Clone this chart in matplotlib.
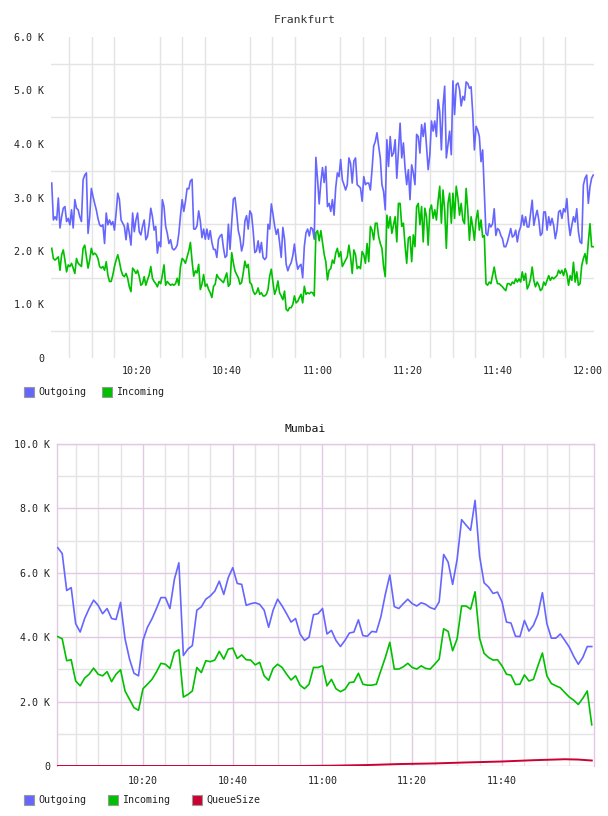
import matplotlib
matplotlib.use('Agg')
import matplotlib.pyplot as plt
import numpy as np
from matplotlib.patches import Rectangle

plt.rcParams['font.family'] = ['DejaVu Sans Mono', 'DejaVu Sans']

# ---------------- data (values in thousands) ----------------
# Frankfurt: dense samples, evenly spaced in time (minutes after 10:00)
fra_t_start = 1.09
fra_t_end = 121.17
fra_outgoing = [
    3.27, 2.58, 2.64, 2.58, 2.99, 2.43, 2.64, 2.80, 2.83, 2.55,
    2.61, 2.49, 2.77, 2.43, 2.96, 2.80, 2.77, 2.64, 2.55, 3.33,
    3.42, 3.46, 2.33, 2.64, 3.17, 3.02, 2.89, 2.77, 2.61, 2.49,
    2.46, 2.49, 2.14, 2.71, 2.49, 2.58, 2.49, 2.55, 2.39, 2.71,
    3.08, 2.96, 2.58, 2.52, 2.46, 2.21, 2.52, 2.33, 2.11, 2.71,
    2.36, 2.58, 2.71, 2.36, 2.30, 2.46, 2.58, 2.21, 2.27, 2.49,
    2.80, 2.64, 2.39, 2.46, 1.96, 2.17, 2.08, 2.96, 2.83, 2.46,
    2.33, 2.14, 2.21, 2.05, 2.02, 2.05, 2.11, 2.33, 2.67, 2.96,
    2.74, 2.93, 3.17,
    3.16, 3.31, 3.34, 2.41, 2.41, 2.47, 2.75, 2.56, 2.25, 2.41,
    2.22, 2.41, 2.22, 2.38, 2.16, 2.03, 2.03, 1.88, 2.22, 2.28,
    2.31, 2.06, 1.88, 1.91, 2.50, 2.03, 2.53, 2.97, 3.00, 2.72,
    2.38, 2.25, 2.00, 2.13, 2.56, 2.66, 2.41, 2.75, 2.69, 2.38,
    1.97, 2.00, 2.19, 1.97, 2.16, 1.88, 1.84, 1.88, 2.50, 2.41,
    2.88, 2.69, 2.47, 2.31, 2.41, 2.16, 1.88, 2.44, 2.22, 1.75,
    1.63, 1.72, 1.78, 1.91, 2.13, 1.84, 1.66, 1.72, 1.75, 1.50,
    2.09, 2.34, 2.41, 2.28, 2.44, 2.41, 2.22, 3.75, 3.34, 2.88,
    3.28, 3.56, 3.28,
    3.58, 2.83, 2.89, 2.74, 2.96, 2.67, 3.18, 3.46, 3.39, 3.71,
    3.33, 3.24, 3.14, 3.24, 3.74, 3.64, 3.27, 3.68, 3.74, 3.24,
    3.21, 3.18, 2.93, 3.39, 3.24, 3.27, 3.27, 3.14, 3.52, 3.96,
    4.05, 4.21, 3.96, 3.74, 3.24, 3.11, 2.77, 4.08, 3.58, 4.14,
    3.77, 3.83, 4.08, 3.36, 3.89, 4.39, 3.74, 4.02, 3.55, 3.24,
    3.52, 2.96, 3.61, 3.46, 3.24, 4.18, 4.14, 3.83, 4.36, 4.14,
    4.39, 3.96, 3.52, 3.80, 4.43, 4.24, 4.43, 4.14, 4.83, 4.61,
    3.89, 4.71, 5.08, 3.74, 3.99, 4.24, 3.80, 5.18, 4.55, 5.11,
    5.14, 5.02, 4.71, 4.89,
    4.82, 5.16, 5.13, 5.04, 5.07, 4.57,
    3.89, 4.33, 4.26, 4.14, 3.67, 3.89, 3.11, 2.33, 2.29, 2.51,
    2.45, 2.51, 2.79, 2.29, 2.42, 2.39, 2.29, 2.23, 2.08, 2.08,
    2.17, 2.29, 2.42, 2.26, 2.29, 2.39, 2.17, 2.36, 2.45, 2.67,
    2.48, 2.64, 2.45, 2.45, 2.70, 2.95, 2.48, 2.64, 2.76, 2.58,
    2.29, 2.33, 2.73, 2.73, 2.39, 2.64, 2.48, 2.61, 2.48, 2.23,
    2.39, 2.73, 2.76, 2.61, 2.79, 2.73, 2.98, 2.54, 2.29, 2.48,
    2.64, 2.54, 2.79, 2.36, 2.17, 2.14, 3.23, 3.36, 3.42, 2.89,
    3.20, 3.36, 3.42,
]
fra_incoming = [
    2.05, 1.86, 1.83, 1.86, 1.89, 1.64, 1.93, 2.02, 1.83, 1.61,
    1.74, 1.71, 1.77, 1.68, 1.58, 1.86, 1.77, 1.74, 1.71, 2.05,
    2.11, 1.89, 1.68, 1.83, 2.05, 1.93, 1.96, 1.93, 1.86, 1.71,
    1.68, 1.71, 1.64, 1.80, 1.55, 1.43, 1.43, 1.55, 1.71, 1.83,
    1.93, 1.80, 1.64, 1.55, 1.52, 1.58, 1.49, 1.33, 1.24, 1.68,
    1.64, 1.58, 1.64, 1.52, 1.36, 1.39, 1.52, 1.36, 1.46, 1.55,
    1.71, 1.49, 1.43, 1.39, 1.33, 1.43, 1.39, 1.55, 1.74, 1.36,
    1.43, 1.39, 1.36, 1.38, 1.36, 1.39, 1.49, 1.36, 1.71, 1.86,
    1.83, 1.77, 1.89,
    2.00, 2.16, 1.81, 1.53, 1.63, 1.59, 1.75, 1.28, 1.38, 1.56,
    1.34, 1.38, 1.28, 1.22, 1.13, 1.34, 1.38, 1.56, 1.50, 1.47,
    1.44, 1.41, 1.50, 1.59, 1.34, 1.38, 1.97, 1.78, 1.63, 1.56,
    1.50, 1.38, 1.41, 1.59, 1.81, 1.69, 1.75, 1.41, 1.38, 1.25,
    1.19, 1.22, 1.31, 1.19, 1.22, 1.16, 1.16, 1.19, 1.28, 1.53,
    1.66, 1.41, 1.19, 1.28, 1.44, 1.22, 1.16, 1.09, 1.25, 0.91,
    0.88, 0.94, 0.94, 1.00, 1.16, 1.03, 1.06, 1.13, 1.19, 1.03,
    1.34, 1.19, 1.22, 1.20, 1.23, 1.22, 1.16, 2.34, 2.38, 2.19,
    2.38, 2.16, 1.94,
    1.80, 1.46, 1.64, 1.67, 1.83, 1.77, 1.96, 2.05, 1.89, 1.99,
    1.71, 1.77, 1.83, 1.89, 2.11, 1.89, 1.58, 2.02, 1.93, 1.67,
    1.71, 1.67, 1.99, 1.93, 1.77, 2.14, 1.80, 2.46, 2.39, 2.21,
    2.52, 2.52, 2.27, 2.14, 2.05, 1.71, 1.52, 2.67, 2.43, 2.64,
    2.33, 2.49, 2.64, 2.17, 2.89, 2.89, 2.46, 2.52, 2.11, 1.77,
    2.24, 2.27, 1.80, 2.30, 2.08, 2.83, 2.89, 2.49, 2.83, 2.17,
    2.80, 2.64, 2.11, 2.77, 2.86, 2.61, 2.77, 2.58, 2.93, 3.21,
    2.52, 3.14, 2.77, 2.05, 2.89, 3.08, 2.52, 3.08, 2.61, 3.21,
    2.99, 2.67, 2.89, 2.58,
    2.51, 3.17, 2.76, 2.20, 2.64, 2.45, 2.20, 2.58, 2.76, 2.39,
    2.58, 2.26, 2.29, 1.39, 1.36, 1.42, 1.39, 1.54, 1.70, 1.51,
    1.39, 1.39, 1.36, 1.33, 1.29, 1.26, 1.39, 1.39, 1.36, 1.42,
    1.39, 1.48, 1.42, 1.48, 1.42, 1.61, 1.45, 1.58, 1.29, 1.36,
    1.48, 1.70, 1.45, 1.33, 1.42, 1.36, 1.26, 1.29, 1.42, 1.36,
    1.45, 1.54, 1.45, 1.51, 1.48, 1.51, 1.54, 1.64, 1.58, 1.64,
    1.54, 1.67, 1.58, 1.36, 1.54, 1.45, 1.79, 1.42, 1.61, 1.36,
    1.39, 1.73, 1.86, 1.95, 1.76, 2.17, 2.51, 2.08, 2.08,
]

# Mumbai: one sample per minute, 10:01 .. 12:00
mum_minutes = list(range(1, 121))
mum_outgoing = [
    6.78, 6.60, 5.45, 5.54, 4.42, 4.16, 4.58, 4.89, 5.15, 4.99,
    4.73, 4.89, 4.58, 4.55, 5.08, 3.95, 3.32, 2.88, 2.80, 3.90,
    4.31, 4.57, 4.89, 5.23, 5.23, 4.89, 5.80, 6.31, 3.43, 3.63,
    3.74, 4.84, 4.94, 5.18, 5.28, 5.43, 5.74, 5.33, 5.85, 6.16,
    5.67, 5.64, 4.99, 5.04, 5.07, 5.02, 4.84, 4.31, 4.84, 5.18,
    4.97, 4.73, 4.47, 4.58,
    4.10, 3.90, 4.00, 4.70, 4.73, 4.89, 4.10, 4.21, 3.90, 3.71,
    3.90, 4.13, 4.16, 4.54, 4.05, 4.03, 4.18, 4.16, 4.63, 5.33,
    5.93, 4.95, 4.89, 5.04, 5.18, 5.04, 4.97, 5.07, 5.02, 4.92,
    4.87, 5.10, 6.57, 6.33, 5.64, 6.42, 7.65, 7.48, 7.32, 8.25,
    6.52, 5.69, 5.56, 5.36, 5.40, 5.10, 4.47, 4.44, 4.03, 4.02,
    4.52, 4.19, 4.37, 4.71, 5.38, 4.42, 3.97, 3.97, 4.10, 3.90,
    3.69, 3.40, 3.16, 3.37, 3.71, 3.71,
]
mum_incoming = [
    4.02, 3.95, 3.27, 3.30, 2.64, 2.49, 2.73, 2.85, 3.04, 2.85,
    2.80, 2.93, 2.62, 2.85, 2.99, 2.33, 2.07, 1.81, 1.73, 2.40,
    2.54, 2.69, 2.92, 3.19, 3.16, 3.03, 3.53, 3.61, 2.14, 2.22,
    2.33, 3.06, 2.90, 3.27, 3.24, 3.29, 3.56, 3.32, 3.63, 3.66,
    3.34, 3.45, 3.30, 3.29, 3.14, 3.22, 2.80, 2.66, 3.03, 3.16,
    3.06, 2.85, 2.67, 2.80,
    2.51, 2.40, 2.54, 3.06, 3.06, 3.11, 2.49, 2.69, 2.40, 2.31,
    2.38, 2.59, 2.61, 2.88, 2.54, 2.51, 2.51, 2.54, 2.96, 3.37,
    3.84, 3.01, 3.01, 3.08, 3.19, 3.06, 3.01, 3.11, 3.03, 3.01,
    3.16, 3.32, 4.26, 4.18, 3.58, 3.95, 4.97, 4.97, 4.87, 5.41,
    3.97, 3.50, 3.37, 3.29, 3.30, 3.11, 2.85, 2.82, 2.53, 2.54,
    2.83, 2.64, 2.69, 3.11, 3.51, 2.80, 2.56, 2.49, 2.43, 2.28,
    2.14, 2.04, 1.91, 2.10, 2.33, 1.28,
]
queue_minutes = [1, 55, 62, 70, 77, 85, 92, 100, 107, 114, 117, 120]
queue_size = [0.0, 0.0, 0.01, 0.03, 0.06, 0.08, 0.11, 0.14, 0.18, 0.21, 0.20, 0.17]

fra_yticks = [0, 1, 2, 3, 4, 5, 6]
fra_ylabels = ['0', '1.0 K', '2.0 K', '3.0 K', '4.0 K', '5.0 K', '6.0 K']
fra_xticks = [20, 40, 60, 80, 100, 120]
fra_xlabels = ['10:20', '10:40', '11:00', '11:20', '11:40', '12:00']
mum_yticks = [0, 2, 4, 6, 8, 10]
mum_ylabels = ['0', '2.0 K', '4.0 K', '6.0 K', '8.0 K', '10.0 K']
mum_xticks = [20, 40, 60, 80, 100]
mum_xlabels = ['10:20', '10:40', '11:00', '11:20', '11:40']

# ---------------- styling ----------------
C_OUT = '#6666ff'
C_IN = '#00c000'
C_Q = '#cc0033'
GRID = '#e4e4e4'
MAJOR = '#e2c8e2'
TXT = '#222222'

W, H = 608, 816
fig = plt.figure(figsize=(W / 100, H / 100), dpi=100)
fig.patch.set_facecolor('white')


def px_axes(l, t, r, b):
    return fig.add_axes([l / W, 1 - b / H, (r - l) / W, (b - t) / H])


# ---------------- Frankfurt ----------------
ax1 = px_axes(51, 37, 594, 358)
fra_t = np.linspace(fra_t_start, fra_t_end, len(fra_outgoing))
ax1.plot(fra_t, fra_outgoing, color=C_OUT, lw=1.2, zorder=3)
ax1.plot(fra_t, fra_incoming, color=C_IN, lw=1.2, zorder=3)
ax1.set_xlim(0.93, 121.33)
ax1.set_ylim(0, 6)
ax1.set_yticks(fra_yticks)
ax1.set_yticklabels(fra_ylabels)
ax1.set_yticks(np.arange(0.5, 6, 1.0), minor=True)
ax1.set_xticks(fra_xticks)
ax1.set_xticklabels(fra_xlabels)
ax1.set_xticks(np.arange(5, 121, 5), minor=True)
ax1.grid(False)
ax1.grid(True, which='minor', color=GRID, lw=1.0, zorder=0)
ax1.set_axisbelow(True)
for s in ax1.spines.values():
    s.set_visible(False)
ax1.tick_params(which='both', length=0)
ax1.tick_params(axis='y', labelsize=7.2, colors=TXT, pad=5)
ax1.tick_params(axis='x', labelsize=7.2, colors=TXT, pad=6)

fig.text(305 / W, 1 - 20 / H, 'Frankfurt', ha='center', va='center',
         fontsize=8.2, color='#333333')

# ---------------- Mumbai ----------------
ax2 = px_axes(57, 444, 594, 766)
ax2.plot(mum_minutes, mum_outgoing, color=C_OUT, lw=1.2, zorder=3)
ax2.plot(mum_minutes, mum_incoming, color=C_IN, lw=1.2, zorder=3)
ax2.plot(queue_minutes, queue_size, color=C_Q, lw=1.4, zorder=4)
ax2.set_xlim(0.84, 120.5)
ax2.set_ylim(0, 10)
ax2.set_yticks(mum_yticks)
ax2.set_yticklabels(mum_ylabels)
ax2.set_yticks(np.arange(1, 10, 2), minor=True)
ax2.set_xticks(mum_xticks)
ax2.set_xticklabels(mum_xlabels)
ax2.set_xticks(np.arange(5, 120, 5), minor=True)
ax2.grid(True, which='major', color=MAJOR, lw=1.0, zorder=0)
ax2.grid(True, which='minor', color=GRID, lw=1.0, zorder=0)
ax2.set_axisbelow(True)
for name, s in ax2.spines.items():
    s.set_color(MAJOR)
    s.set_linewidth(1.0)
ax2.spines['bottom'].set_visible(False)
ax2.tick_params(which='both', length=0)
ax2.tick_params(axis='y', labelsize=7.2, colors=TXT, pad=5)
ax2.tick_params(axis='x', labelsize=7.2, colors=TXT, pad=7)

fig.text(305 / W, 1 - 429 / H, 'Mumbai', ha='center', va='center',
         fontsize=8.2, color='#111111')


# ---------------- legends ----------------
def legend_item(x, y, color, label):
    fig.add_artist(Rectangle((x / W, 1 - (y + 5) / H), 10 / W, 10 / H,
                             transform=fig.transFigure, facecolor=color,
                             edgecolor='#999999', lw=0.8))
    fig.text((x + 14) / W, 1 - y / H, label, ha='left', va='center',
             fontsize=7.2, color=TXT)


legend_item(24, 392, C_OUT, 'Outgoing')
legend_item(102, 392, C_IN, 'Incoming')
legend_item(24, 800, C_OUT, 'Outgoing')
legend_item(108, 800, C_IN, 'Incoming')
legend_item(192, 800, C_Q, 'QueueSize')

fig.savefig('out.png', dpi=100, facecolor='white')
